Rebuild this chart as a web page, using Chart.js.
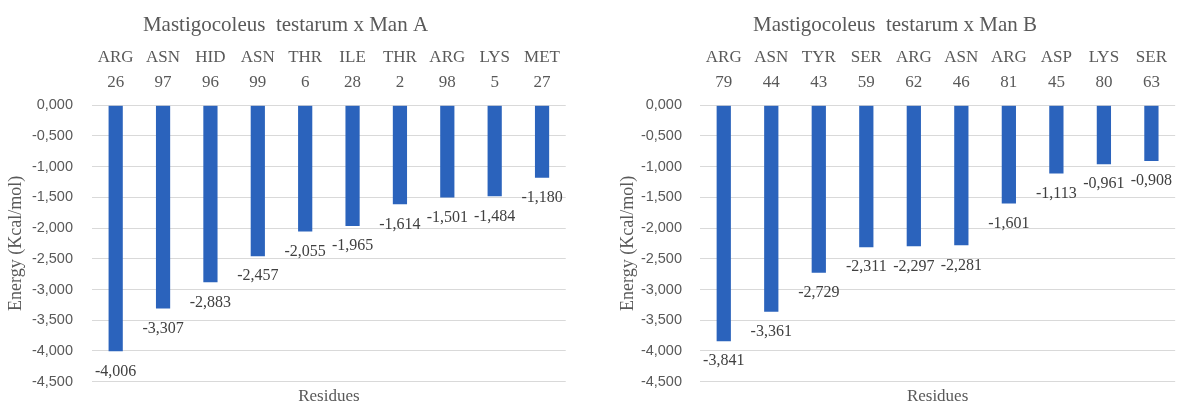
<!DOCTYPE html>
<html>
<head>
<meta charset="utf-8">
<title>Mastigocoleus testarum – interaction energies</title>
<script src="https://cdn.jsdelivr.net/npm/chart.js@4/dist/chart.umd.min.js"></script>
<style>
  html, body { margin: 0; padding: 0; background: #ffffff; }
  #wrap { position: relative; width: 1178px; height: 403px; overflow: hidden; }
  #chartA { position: absolute; left: 0; top: 0; }
  #chartB { position: absolute; left: 612px; top: 0; }
</style>
</head>
<body>
<div id="wrap">
  <canvas id="chartA" width="571" height="403"></canvas>
  <canvas id="chartB" width="566" height="403"></canvas>
</div>
<script>
// Residue names and numbers for each complex
const residuesA = ['ARG', 'ASN', 'HID', 'ASN', 'THR', 'ILE', 'THR', 'ARG', 'LYS', 'MET'];
const residueNumA = ['26', '97', '96', '99', '6', '28', '2', '98', '5', '27'];
const energyA = [-4.006, -3.307, -2.883, -2.457, -2.055, -1.965, -1.614, -1.501, -1.484, -1.180];

const residuesB = ['ARG', 'ASN', 'TYR', 'SER', 'ARG', 'ASN', 'ARG', 'ASP', 'LYS', 'SER'];
const residueNumB = ['79', '44', '43', '59', '62', '46', '81', '45', '80', '63'];
const energyB = [-3.841, -3.361, -2.729, -2.311, -2.297, -2.281, -1.601, -1.113, -0.961, -0.908];

// Y axis range and step (Kcal/mol)
const yMin = -4.5;
const yMax = 0;
const yStep = 0.5;

const titleA = 'Mastigocoleus  testarum x Man A';
const titleB = 'Mastigocoleus  testarum x Man B';
const yTitle = 'Energy (Kcal/mol)';
const xTitle = 'Residues';

const BAR_BLUE = '#2b63bc';
const TEXT_GREY = '#595959';
const LABEL_GREY = '#404040';
const GRID_GREY = '#d9d9d9';
const SERIF = '"Liberation Serif", "DejaVu Serif", serif';
const SANS = '"Liberation Sans", Arial, sans-serif';

const fmt = v => Number(v).toFixed(3).replace('.', ',');

// Writes each bar's value just below the end of the bar
const valueLabels = {
  id: 'valueLabels',
  afterDatasetsDraw(chart) {
    const ctx = chart.ctx;
    ctx.save();
    ctx.font = '16px ' + SERIF;
    ctx.fillStyle = LABEL_GREY;
    ctx.textAlign = 'center';
    ctx.textBaseline = 'middle';
    chart.data.datasets.forEach((ds, di) => {
      chart.getDatasetMeta(di).data.forEach((bar, i) => {
        ctx.fillText(fmt(ds.data[i]), bar.x, bar.y + 20);
      });
    });
    ctx.restore();
  }
};

function makeChart(id, title, names, nums, values, yWidth, yGap) {
  const labels = names.map((n, i) => [n, nums[i]]);
  return new Chart(document.getElementById(id), {
    type: 'bar',
    data: {
      labels: labels,
      datasets: [{
        data: values,
        backgroundColor: BAR_BLUE,
        borderWidth: 0,
        barPercentage: 0.3,
        categoryPercentage: 1.0,
        xAxisID: 'x',
        yAxisID: 'y'
      }]
    },
    options: {
      responsive: false,
      animation: false,
      devicePixelRatio: 1,
      layout: { padding: 0 },
      plugins: {
        legend: { display: false },
        tooltip: { enabled: false },
        title: {
          display: true,
          text: title,
          color: TEXT_GREY,
          font: { family: SERIF, size: 21, weight: 'normal', lineHeight: 1.15 },
          padding: { top: 13, bottom: 2 }
        }
      },
      scales: {
        x: {
          position: 'top',
          grid: { display: false, drawTicks: false },
          border: { display: false },
          ticks: {
            color: TEXT_GREY,
            font: { family: SERIF, size: 17, lineHeight: 1.42 },
            padding: 11,
            maxRotation: 0,
            autoSkip: false
          },
          afterFit(scale) { scale.height = 66; }
        },
        x2: {
          position: 'bottom',
          type: 'category',
          labels: labels,
          grid: { display: false, drawTicks: false },
          border: { display: false },
          ticks: { display: false },
          title: {
            display: true,
            text: xTitle,
            color: TEXT_GREY,
            font: { family: SERIF, size: 17, lineHeight: 0.8 },
            padding: { top: 0, bottom: 0 }
          },
          afterFit(scale) { scale.height = 21.3; }
        },
        y: {
          min: yMin,
          max: yMax,
          // invisible tick marks keep the labels clear of the plot edge
          grid: { color: GRID_GREY, lineWidth: 1, drawTicks: true, tickLength: yGap, tickColor: 'rgba(0,0,0,0)' },
          border: { display: false },
          ticks: {
            stepSize: yStep,
            color: TEXT_GREY,
            font: { family: SANS, size: 14.5 },
            padding: 0,
            callback: v => fmt(v)
          },
          title: {
            display: true,
            text: yTitle,
            color: TEXT_GREY,
            font: { family: SERIF, size: 18, lineHeight: 1.2 },
            padding: { top: 5, bottom: 0 }
          },
          afterFit(scale) { scale.width = yWidth; }
        }
      }
    },
    plugins: [valueLabels]
  });
}

makeChart('chartA', titleA, residuesA, residueNumA, energyA, 92, 19);
makeChart('chartB', titleB, residuesB, residueNumB, energyB, 88, 18);
</script>
</body>
</html>
